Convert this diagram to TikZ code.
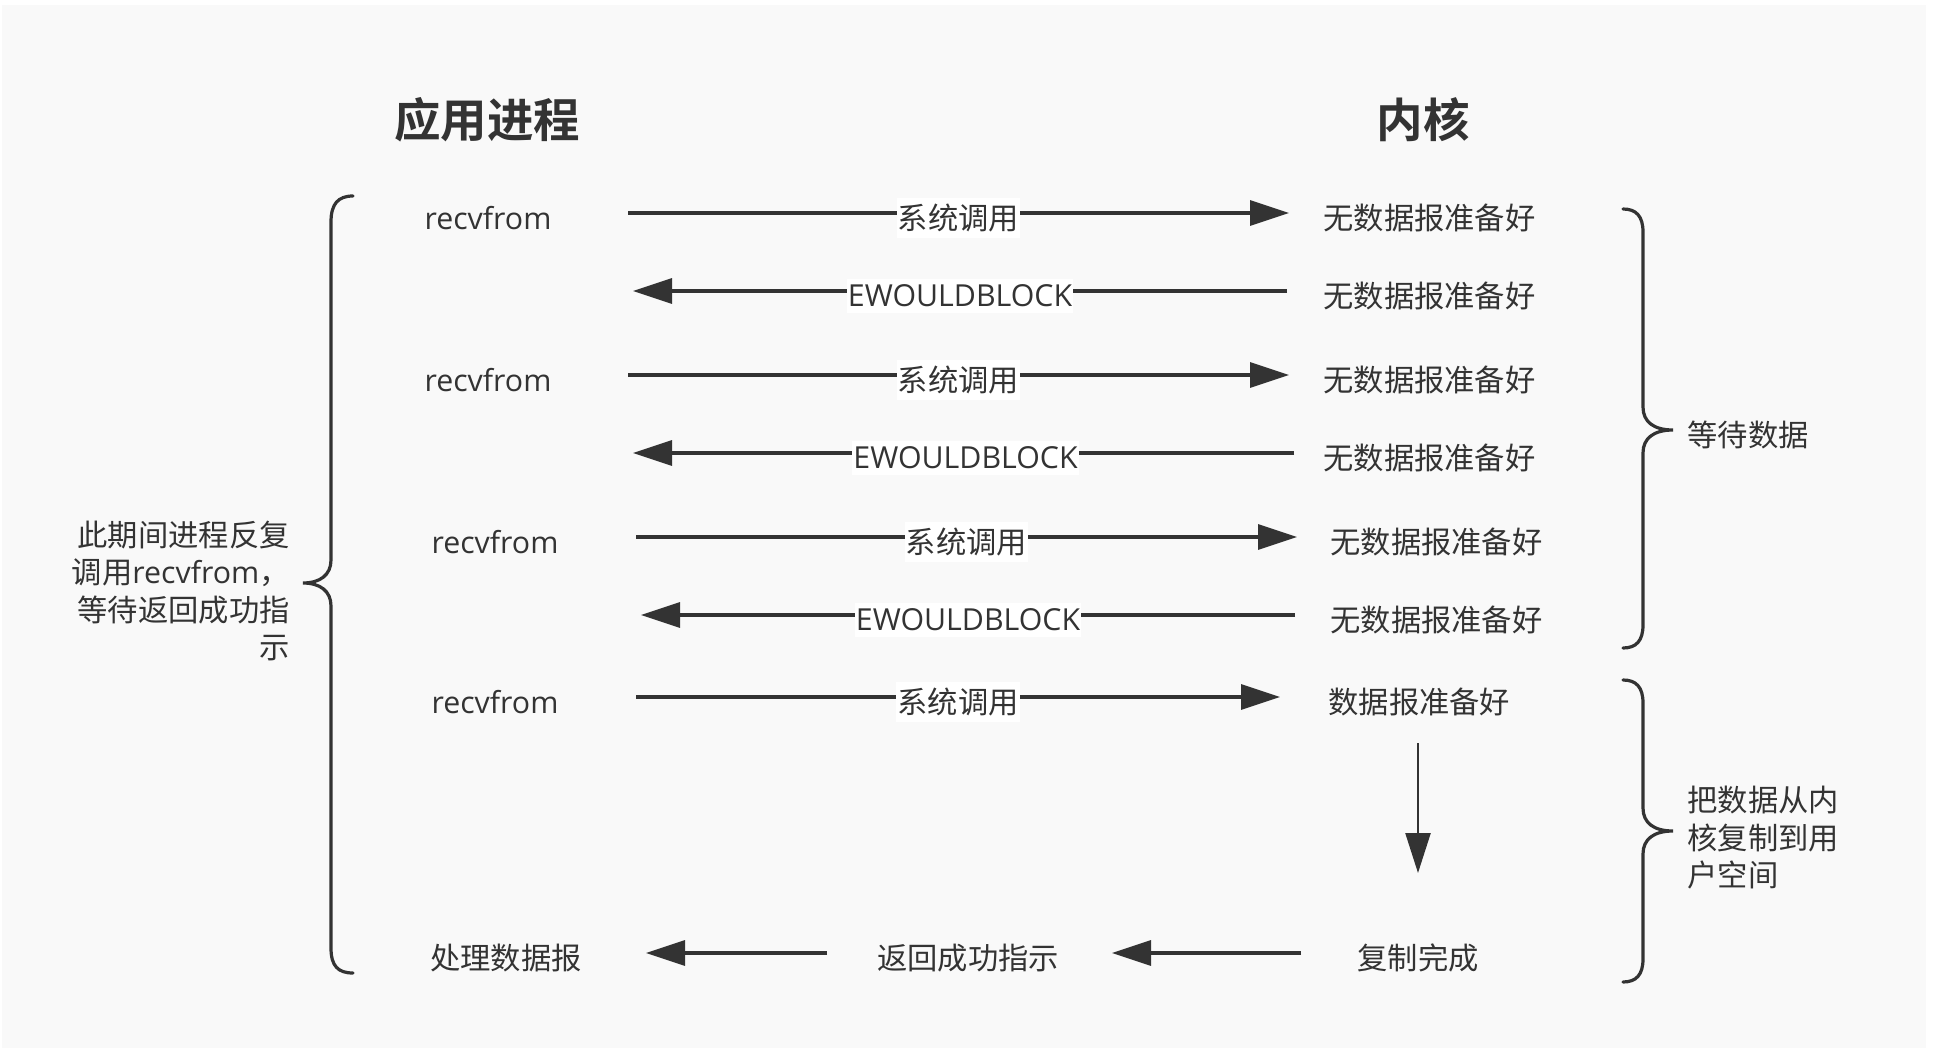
\documentclass[tikz,border=0pt]{standalone}
\usepackage{fontspec}
\setmainfont{Noto Sans CJK SC}[BoldFont={Noto Sans CJK SC Bold}]
\newfontfamily\lat{Open Sans}
\usetikzlibrary{arrows.meta}
\definecolor{ink}{HTML}{333333}
\definecolor{bgc}{HTML}{F9F9F9}
\begin{document}
\begin{tikzpicture}[x=0.5pt,y=-0.5pt,
  txt/.style={font=\fontsize{15.15pt}{18.75pt}\selectfont, text=ink, inner sep=0pt},
  ttl/.style={font=\fontsize{23.25pt}{28pt}\selectfont\bfseries, text=ink, inner sep=0pt},
  arr/.style={draw=ink, line width=1.6pt, -{Triangle[length=19.5pt,width=12.5pt]}},
  varr/.style={draw=ink, line width=1.2pt, -{Triangle[length=20pt,width=12.5pt]}},
  lab/.style={txt, fill=white, inner xsep=0.5pt, inner ysep=3pt, yshift=-2.5pt},
  brace/.style={draw=ink, line width=1.6pt, line cap=round}]

\useasboundingbox (0,0) rectangle (1944,1049);
\fill[white] (0,0) rectangle (1944,1049);
\fill[bgc] (2,5) rectangle (1926,1048);

% titles
\node[ttl] (tapp) at (487,120) {应用进程};
\node[ttl] (tker) at (1423,120) {内核};

% application side
\node[txt] (a1) at (488,218) {\lat recvfrom};
\node[txt] (a3) at (488,380) {\lat recvfrom};
\node[txt] (a5) at (495,542) {\lat recvfrom};
\node[txt] (a7) at (495,702) {\lat recvfrom};
\node[txt] (a8) at (506,958) {处理数据报};

% kernel side
\node[txt, anchor=west] (k1) at (1323,218) {无数据报准备好};
\node[txt, anchor=west] (k2) at (1323,296) {无数据报准备好};
\node[txt, anchor=west] (k3) at (1323,380) {无数据报准备好};
\node[txt, anchor=west] (k4) at (1323,458) {无数据报准备好};
\node[txt, anchor=west] (k5) at (1330,542) {无数据报准备好};
\node[txt, anchor=west] (k6) at (1330,620) {无数据报准备好};
\node[txt, anchor=west] (k7) at (1328,702) {数据报准备好};
\node[txt, anchor=west] (k8) at (1357,958) {复制完成};
\node[txt] (m8) at (968,958) {返回成功指示};

% arrow end points
\coordinate (s1) at (628,213);  \coordinate (e1) at (1289,213);
\coordinate (s2) at (1287,291); \coordinate (e2) at (633,291);
\coordinate (s3) at (628,375);  \coordinate (e3) at (1289,375);
\coordinate (s4) at (1294,453); \coordinate (e4) at (633,453);
\coordinate (s5) at (636,537);  \coordinate (e5) at (1297,537);
\coordinate (s6) at (1295,615); \coordinate (e6) at (641,615);
\coordinate (s7) at (636,697);  \coordinate (e7) at (1280,697);
\coordinate (vs) at (1418,743); \coordinate (ve) at (1418,873);
\coordinate (b1s) at (827,953); \coordinate (b1e) at (646,953);
\coordinate (b2s) at (1301,953); \coordinate (b2e) at (1112,953);

\draw[arr] (s1) -- node[lab] (l1) {系统调用} (e1);
\draw[arr] (s2) -- node[lab] (l2) {\lat EWOULDBLOCK} (e2);
\draw[arr] (s3) -- node[lab] (l3) {系统调用} (e3);
\draw[arr] (s4) -- node[lab, xshift=1pt] (l4) {\lat EWOULDBLOCK} (e4);
\draw[arr] (s5) -- node[lab] (l5) {系统调用} (e5);
\draw[arr] (s6) -- node[lab] (l6) {\lat EWOULDBLOCK} (e6);
\draw[arr] (s7) -- node[lab] (l7) {系统调用} (e7);
\draw[varr] (vs) -- (ve);
\draw[arr] (b1s) -- (b1e);
\draw[arr] (b2s) -- (b2e);

% left brace
\draw[brace] (353,196) .. controls (338,196) and (331,204) .. (331,222) -- (331,560)
  .. controls (331,575) and (320,583) .. (303,583)
  .. controls (320,583) and (331,591) .. (331,606) -- (331,948)
  .. controls (331,966) and (338,973) .. (353,973);
\node[txt, anchor=east, align=right] (lb) at (290,591)
  {此期间进程反复\\调用{\lat recvfrom}，\\等待返回成功指\\示};

% right braces
\draw[brace] (1623,209) .. controls (1636,209) and (1643,216) .. (1643,232) -- (1643,407)
  .. controls (1643,422) and (1654,430) .. (1673,430)
  .. controls (1654,430) and (1643,438) .. (1643,453) -- (1643,625)
  .. controls (1643,641) and (1636,648) .. (1623,648);
\draw[brace] (1623,680) .. controls (1636,680) and (1643,687) .. (1643,703) -- (1643,808)
  .. controls (1643,823) and (1654,831) .. (1673,831)
  .. controls (1654,831) and (1643,839) .. (1643,854) -- (1643,959)
  .. controls (1643,975) and (1636,982) .. (1623,982);
\node[txt, anchor=west] (r1) at (1687,435) {等待数据};
\node[txt, anchor=west, align=left] (r2) at (1687,838) {把数据从内\\核复制到用\\户空间};
\end{tikzpicture}
\end{document}
